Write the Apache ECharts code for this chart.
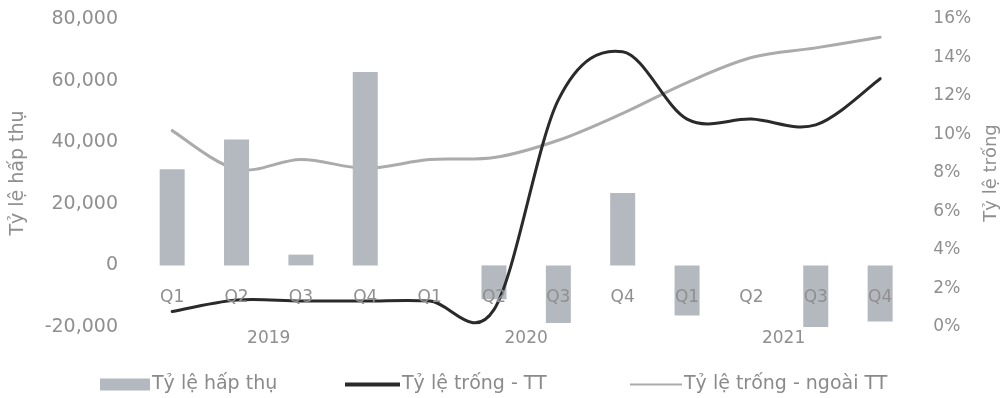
<!DOCTYPE html>
<html>
<head>
<meta charset="utf-8">
<script src="https://cdn.jsdelivr.net/npm/echarts@6/dist/echarts.min.js"></script>
<style>
  html, body { margin: 0; padding: 0; background: #ffffff; }
  #chart { width: 1008px; height: 398px; }
</style>
</head>
<body>
<div id="chart"></div>
<script>
// Quarterly categories and the years they belong to
const quarters = ['Q1', 'Q2', 'Q3', 'Q4', 'Q1', 'Q2', 'Q3', 'Q4', 'Q1', 'Q2', 'Q3', 'Q4'];
const years = ['2019', '2020', '2021'];

// Net absorption (left axis)
const absorption = [31200, 40900, 3500, 62800, 0, -11000, -18700, 23500, -16300, 0, -20000, -18200];
// Vacancy rate, CBD (%), right axis
const vacancyCBD = [0.8, 1.4, 1.35, 1.35, 1.35, 0.9, 11.8, 14.3, 10.8, 10.8, 10.5, 12.9];
// Vacancy rate, non-CBD (%), right axis
const vacancyNonCBD = [10.2, 8.2, 8.7, 8.25, 8.7, 8.8, 9.7, 11.1, 12.7, 14.0, 14.5, 15.05];

// Left axis ticks
const leftMin = -20000, leftMax = 80000, leftStep = 20000;
// Right axis ticks
const rightMin = 0, rightMax = 16, rightStep = 2;

const FONT = 'DejaVu Sans';
const TXT = '#8f8f8f';
const BAR = '#b4b9c0';
const DARK = '#2a2a2a';
const LIGHT = '#ababab';

const W = 1008, H = 398;
const GRID = { left: 140, right: 94, top: 19, bottom: 71 };
// The quarter labels sit on the zero line of the left axis
const plotH = H - GRID.top - GRID.bottom;
const zeroOffset = -plotH * (0 - leftMin) / (leftMax - leftMin);

const chart = echarts.init(document.getElementById('chart'), null, { renderer: 'canvas' });

// Smooth curve through every point of a series (Catmull-Rom tangents,
// cubic Bezier segments), positioned with the chart's own axes.
function smoothLine(values, color, width) {
  return function (params, api) {
    if (params.dataIndex !== 0) return null;
    const pts = values.map((v, i) => api.coord([i, v]));
    let d = 'M' + pts[0][0] + ' ' + pts[0][1];
    for (let i = 0; i < pts.length - 1; i++) {
      const p0 = pts[Math.max(i - 1, 0)];
      const p1 = pts[i];
      const p2 = pts[i + 1];
      const p3 = pts[Math.min(i + 2, pts.length - 1)];
      const c1x = p1[0] + (p2[0] - p0[0]) / 6;
      const c1y = p1[1] + (p2[1] - p0[1]) / 6;
      const c2x = p2[0] - (p3[0] - p1[0]) / 6;
      const c2y = p2[1] - (p3[1] - p1[1]) / 6;
      d += ' C' + c1x + ' ' + c1y + ' ' + c2x + ' ' + c2y + ' ' + p2[0] + ' ' + p2[1];
    }
    return {
      type: 'path',
      shape: { pathData: d },
      style: { stroke: color, lineWidth: width, fill: null, lineJoin: 'round', lineCap: 'round' }
    };
  };
}

const legendText = { color: '#8a8a8a', fontFamily: FONT, fontSize: 19, padding: [0, 0, 0, -3] };

chart.setOption({
  animation: false,
  backgroundColor: '#ffffff',
  grid: Object.assign({ containLabel: false }, GRID),
  legend: [
    {
      left: 100, top: 375, padding: 0, itemWidth: 50, itemHeight: 12,
      textStyle: legendText,
      data: [{ name: 'Tỷ lệ hấp thụ', icon: 'rect', itemStyle: { color: BAR } }]
    },
    {
      left: 345, top: 375, padding: 0, itemWidth: 55, itemHeight: 4,
      textStyle: legendText,
      data: [{ name: 'Tỷ lệ trống - TT', icon: 'rect', itemStyle: { color: DARK } }]
    },
    {
      left: 630, top: 375, padding: 0, itemWidth: 52, itemHeight: 2,
      textStyle: legendText,
      data: [{ name: 'Tỷ lệ trống - ngoài TT', icon: 'rect', itemStyle: { color: LIGHT } }]
    }
  ],
  xAxis: [
    {
      type: 'category',
      data: quarters,
      boundaryGap: true,
      z: 10,
      offset: zeroOffset,
      axisLine: { show: false, onZero: false },
      axisTick: { show: false },
      axisLabel: { interval: 0, margin: 24, color: TXT, fontFamily: FONT, fontSize: 17 },
      splitLine: { show: false }
    },
    {
      type: 'category',
      data: years,
      position: 'bottom',
      boundaryGap: true,
      axisLine: { show: false, onZero: false },
      axisTick: { show: false },
      axisLabel: { interval: 0, margin: 3, color: TXT, fontFamily: FONT, fontSize: 17 },
      splitLine: { show: false }
    }
  ],
  yAxis: [
    {
      type: 'value',
      min: leftMin, max: leftMax, interval: leftStep,
      name: 'Tỷ lệ hấp thụ',
      nameLocation: 'middle',
      nameGap: 112,
      nameTextStyle: { color: TXT, fontFamily: FONT, fontSize: 19 },
      axisLine: { show: false },
      axisTick: { show: false },
      splitLine: { show: false },
      axisLabel: {
        margin: 22, color: TXT, fontFamily: FONT, fontSize: 19,
        formatter: v => v.toLocaleString('en-US')
      }
    },
    {
      type: 'value',
      position: 'right',
      min: rightMin, max: rightMax, interval: rightStep,
      name: 'Tỷ lệ trống',
      nameLocation: 'middle',
      nameGap: 66,
      nameTextStyle: { color: TXT, fontFamily: FONT, fontSize: 18 },
      axisLine: { show: false },
      axisTick: { show: false },
      splitLine: { show: false },
      axisLabel: { margin: 21, color: TXT, fontFamily: FONT, fontSize: 17, formatter: '{value}%' }
    }
  ],
  series: [
    {
      name: 'Tỷ lệ trống - ngoài TT',
      type: 'custom',
      xAxisIndex: 0,
      yAxisIndex: 1,
      data: vacancyNonCBD.map((v, i) => [i, v]),
      encode: { x: 0, y: 1 },
      renderItem: smoothLine(vacancyNonCBD, LIGHT, 3),
      itemStyle: { color: LIGHT },
      clip: false,
      z: 1
    },
    {
      name: 'Tỷ lệ hấp thụ',
      type: 'bar',
      xAxisIndex: 0,
      yAxisIndex: 0,
      data: absorption,
      barWidth: 25,
      z: 2,
      itemStyle: { color: BAR }
    },
    {
      name: 'Tỷ lệ trống - TT',
      type: 'custom',
      xAxisIndex: 0,
      yAxisIndex: 1,
      data: vacancyCBD.map((v, i) => [i, v]),
      encode: { x: 0, y: 1 },
      renderItem: smoothLine(vacancyCBD, DARK, 3),
      itemStyle: { color: DARK },
      clip: false,
      z: 3
    }
  ]
});
</script>
</body>
</html>
